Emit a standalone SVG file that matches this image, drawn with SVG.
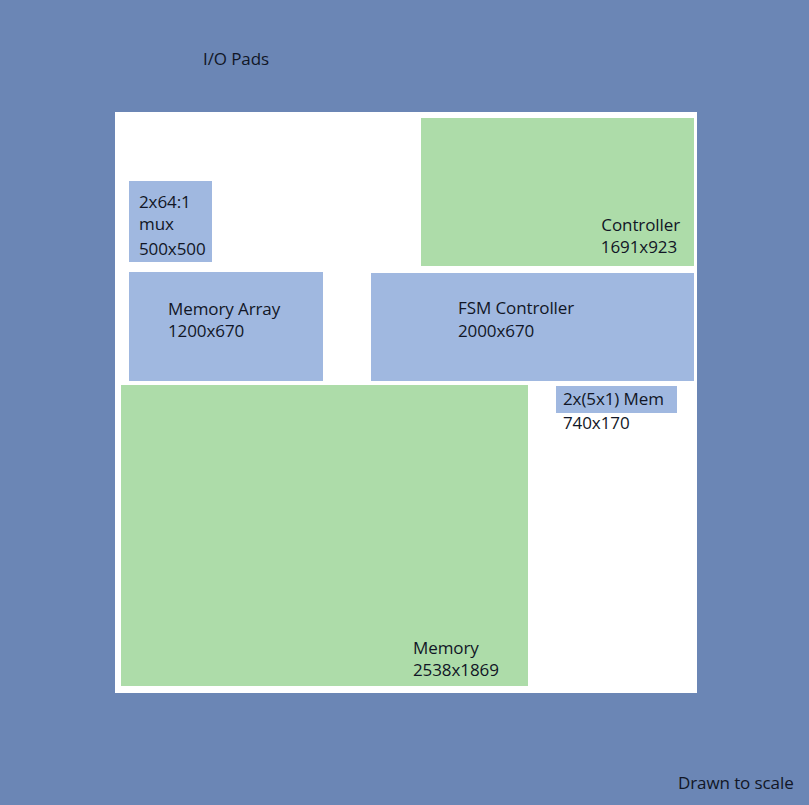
<svg xmlns="http://www.w3.org/2000/svg" width="809" height="805" viewBox="0 0 809 805">
<style>
.t{font-family:"Open Sans","Liberation Sans",sans-serif;font-size:17px;font-weight:500;fill:#111626;letter-spacing:-0.1px}
.blue{fill:#a0b8e0}
.green{fill:#addca9}
</style>
<rect x="0" y="0" width="809" height="805" fill="#6b86b5"/>
<text class="t" x="203" y="65">I/O Pads</text>
<rect x="115" y="112" width="582" height="581" fill="#ffffff"/>
<g id="controller">
<rect class="green" x="421" y="118" width="273" height="148"/>
<text class="t" x="680" y="231" text-anchor="end">Controller</text>
<text class="t" x="677" y="253" text-anchor="end">1691x923</text>
</g>
<g id="mux">
<rect class="blue" x="129" y="181" width="83" height="81"/>
<text class="t" x="139" y="208">2x64:1</text>
<text class="t" x="139" y="230">mux</text>
<text class="t" x="139" y="255">500x500</text>
</g>
<g id="memory-array">
<rect class="blue" x="129" y="272" width="194" height="109"/>
<text class="t" x="168" y="315">Memory Array</text>
<text class="t" x="168" y="337">1200x670</text>
</g>
<g id="fsm-controller">
<rect class="blue" x="371" y="273" width="323" height="108"/>
<text class="t" x="458" y="314">FSM Controller</text>
<text class="t" x="458" y="337">2000x670</text>
</g>
<g id="memory">
<rect class="green" x="121" y="385" width="407" height="301"/>
<text class="t" x="413" y="654">Memory</text>
<text class="t" x="413" y="676">2538x1869</text>
</g>
<g id="mem-2x5x1">
<rect class="blue" x="556" y="386" width="121" height="27"/>
<text class="t" x="563" y="405">2x(5x1) Mem</text>
<text class="t" x="563" y="429">740x170</text>
</g>
<g id="connectors"></g>
<text class="t" x="678" y="789">Drawn to scale</text>
</svg>
